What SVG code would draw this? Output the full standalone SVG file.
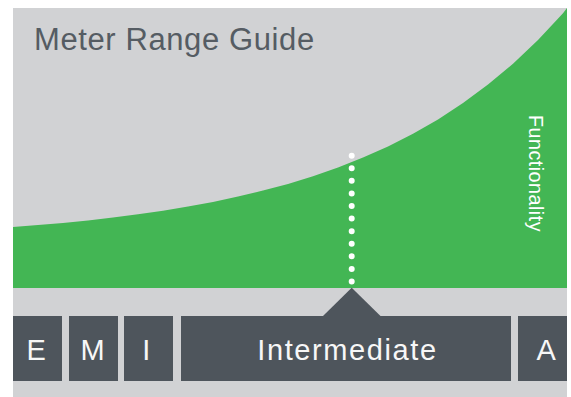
<svg xmlns="http://www.w3.org/2000/svg" width="571" height="397" viewBox="0 0 571 397">
<style>
.box{fill:#4e555c}
.lbl{font-family:"Liberation Sans",Arial,sans-serif;font-size:29px;fill:#f7f7f7;text-anchor:middle;letter-spacing:1.6px}
</style>
<rect x="0" y="0" width="571" height="397" fill="#ffffff"/>
<rect x="13" y="8" width="554" height="389" fill="#d1d2d4"/>
<path id="functionality-area" d="M13,227 L38,225.1 L63,222.9 L88,220.4 L113,217.5 L138,214.3 L163,210.7 L188,206.6 L213,201.9 L238,196.6 L263,190.6 L288,183.9 L313,176.2 L338,167.5 L363,157.6 L388,146.4 L413,133.7 L438,119.4 L463,103.1 L488,84.6 L513,63.7 L538,40.1 L563,13.2 L567,8 L567,288 L13,288 Z" fill="#43b654"/>
<text x="34" y="50" font-family="Liberation Sans, Arial, sans-serif" font-size="31" letter-spacing="0.6" fill="#555c63">Meter Range Guide</text>
<text transform="translate(529,115) rotate(90)" font-family="Liberation Sans, Arial, sans-serif" font-size="19.7" letter-spacing="0.5" fill="#ffffff">Functionality</text>
<g id="connectors">
<line x1="351.7" y1="155.7" x2="351.7" y2="281.5" stroke="#ffffff" stroke-width="6" stroke-linecap="round" stroke-dasharray="0 12.58"/>
<polygon points="323,316 351.7,287.7 380.5,316" fill="#4e555c"/>
</g>
<g id="node-E"><rect class="box" x="13" y="316" width="49" height="65"/><text class="lbl" x="37" y="360">E</text></g>
<g id="node-M"><rect class="box" x="69" y="316" width="49" height="65"/><text class="lbl" x="93.5" y="360">M</text></g>
<g id="node-I"><rect class="box" x="124" y="316" width="49" height="65"/><text class="lbl" x="147" y="360">I</text></g>
<g id="node-Intermediate"><rect class="box" x="181" y="316" width="330" height="65"/><text class="lbl" x="347.5" y="360">Intermediate</text></g>
<g id="node-A"><rect class="box" x="518" y="316" width="49" height="65"/><text class="lbl" x="547" y="360">A</text></g>
</svg>
